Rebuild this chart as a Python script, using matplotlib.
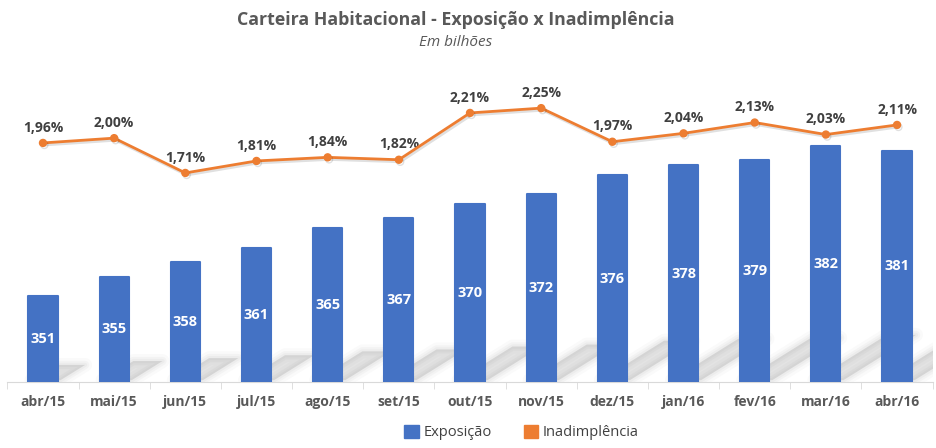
import matplotlib
matplotlib.use("Agg")
import matplotlib.pyplot as plt
import matplotlib.patheffects as pe
from matplotlib.patches import Polygon, Patch

plt.rcParams['font.family'] = ['Open Sans', 'DejaVu Sans']

# dados
meses = ["abr/15", "mai/15", "jun/15", "jul/15", "ago/15", "set/15", "out/15",
         "nov/15", "dez/15", "jan/16", "fev/16", "mar/16", "abr/16"]
exposicao = [351, 355, 358, 361, 365, 367, 370, 372, 376, 378, 379, 382, 381]
inadimplencia = [1.96, 2.00, 1.71, 1.81, 1.84, 1.82, 2.21, 2.25, 1.97, 2.04, 2.13, 2.03, 2.11]

azul = "#4472C4"
laranja = "#ED7D31"
cinza_txt = "#595959"

fig = plt.figure(figsize=(9.36, 4.48), dpi=100)
ax = fig.add_axes([0.0079, 0.147, 0.9885, 0.7188])
ax2 = ax.twinx()

x = list(range(len(meses)))
ax.set_xlim(-0.5, len(meses) - 0.5)
ax.set_ylim(333.2, 399.7)
ax2.set_ylim(-0.033, 2.65)

# barras
ax.bar(x, exposicao, width=0.41, bottom=0, color=azul, edgecolor=azul,
       linewidth=1.5, joinstyle="round", zorder=3)

# sombras das barras (projecao inclinada, bordas suaves)
fig.canvas.draw()
for xi, v in zip(x, exposicao):
    xl, y0 = ax.transData.transform((xi - 0.205, ax.get_ylim()[0]))
    xr, y1 = ax.transData.transform((xi + 0.205, v))
    h = y1 - y0
    dx, dy = h * 0.32, h * 0.2
    pts = [(xl + 3, y0 + 2), (xr + 3, y0 + 2),
           (xr + dx, y0 + dy), (xl + dx, y0 + dy)]
    for lw, a in [(10, 0.04), (6, 0.05), (3, 0.06)]:
        ax.add_patch(Polygon(pts, closed=True, transform=None, facecolor="none",
                             edgecolor="#808080", linewidth=lw, joinstyle="round",
                             alpha=a, zorder=2))
    ax.add_patch(Polygon(pts, closed=True, transform=None, facecolor="#808080",
                         edgecolor="none", alpha=0.22, zorder=2))

for xi, v in zip(x, exposicao):
    ax.text(xi, (v + ax.get_ylim()[0]) / 2, str(v), ha="center", va="center",
            color="white", fontsize=10.5, fontweight="bold", zorder=4)

# linha de inadimplencia
ax2.plot(x, inadimplencia, color=laranja, linewidth=2, marker="o", markersize=5,
         zorder=5, path_effects=[pe.SimpleLineShadow(offset=(1, -1.5), alpha=0.12),
                                 pe.Normal()])
for xi, v in zip(x, inadimplencia):
    ax2.annotate(f"{v:.2f}%".replace(".", ","), (xi, v), xytext=(0, 6),
                 textcoords="offset points", ha="center", va="bottom",
                 fontsize=10, fontweight="bold", color="#404040")

# eixos
for a in (ax, ax2):
    for s in ("top", "right", "left"):
        a.spines[s].set_visible(False)
ax2.spines["bottom"].set_visible(False)
ax.spines["bottom"].set_color("#d9d9d9")
ax.set_yticks([])
ax2.set_yticks([])
ax.set_xticks(x)
ax.set_xticklabels(meses, fontsize=10, fontweight="bold", color=cinza_txt)
ax.tick_params(axis="x", length=0, pad=9)
ax.set_xticks([i - 0.5 for i in range(len(meses) + 1)], minor=True)
ax.tick_params(axis="x", which="minor", length=5, color="#d9d9d9")
ax.set_zorder(1)
ax2.set_zorder(2)

# titulo
fig.text(0.487, 0.955, "Carteira Habitacional - Exposição x Inadimplência", ha="center",
         va="center", fontsize=12.8, fontweight="bold", color=cinza_txt)
fig.text(0.487, 0.905, "Em bilhões", ha="center", va="center", fontsize=11,
         style="italic", color=cinza_txt)

# legenda
handles = [Patch(facecolor=azul, edgecolor=azul, label="Exposição"),
           Patch(facecolor=laranja, edgecolor=laranja, label="Inadimplência")]
fig.legend(handles=handles, loc="center", bbox_to_anchor=(0.557, 0.035), ncol=2,
           frameon=False, fontsize=10.5, handlelength=1.0, handleheight=1.0,
           handletextpad=0.3, columnspacing=2.2, labelcolor="#404040")

fig.savefig("out.png", dpi=100)
